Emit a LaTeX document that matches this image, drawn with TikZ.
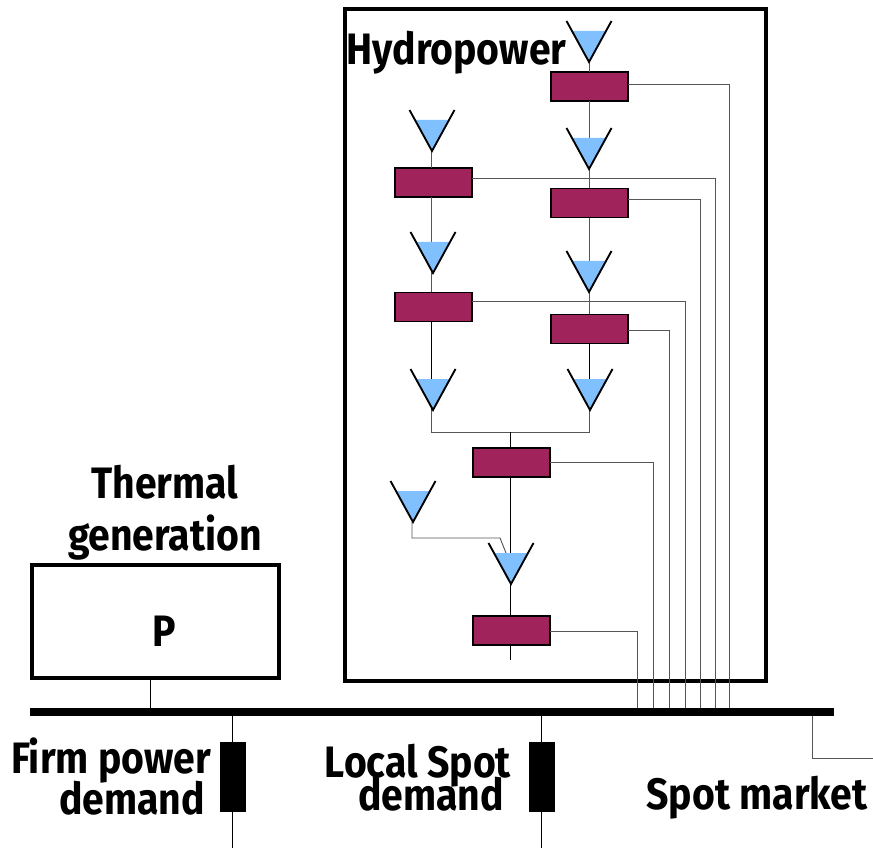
\documentclass[tikz,border=0pt]{standalone}
\usepackage{fontspec}
\setmainfont{Fira Sans}[FakeStretch=0.89,BoldFont={Fira Sans Bold}]
\definecolor{turb}{RGB}{160,35,92}
\definecolor{water}{RGB}{128,192,255}
\definecolor{wire}{RGB}{85,85,85}
\tikzset{
  px/.style={x=0.75pt,y=-0.75pt},
  turbine/.style={draw=black,line width=1.1pt,fill=turb,minimum width=58pt,minimum height=22pt,inner sep=0pt,outer sep=0pt},
  frame/.style={draw=black,line width=2.4pt,inner sep=0pt,outer sep=0pt},
  wire/.style={draw=wire,line width=0.7pt},
  dark/.style={draw=black,line width=0.75pt},
  sink/.style={fill=black,draw=none,minimum width=19.5pt,minimum height=52.5pt,inner sep=0pt,outer sep=0pt},
  busbar/.style={fill=black,draw=none,minimum width=603pt,minimum height=6pt,inner sep=0pt,outer sep=0pt},
  lbl/.style={font=\fontsize{33pt}{33pt}\selectfont\bfseries,inner sep=0pt,align=center,text=black,anchor=base},
}
% \tank{apex x}{apex y}
\newcommand{\tank}[2]{%
  \fill[water] (#1-17,#2-31) -- (#1+17,#2-31) -- (#1,#2) -- cycle;
  \draw[black,line width=1.4pt] (#1-22.5,#2-41) -- (#1,#2) -- (#1+22.5,#2-41);
}
\begin{document}
\begin{tikzpicture}[px]
\useasboundingbox (0,0) rectangle (873,848);
% tank apexes
\coordinate (t1) at (589,62);
\coordinate (t2) at (431,151);
\coordinate (t3) at (589,169);
\coordinate (t4) at (431,273);
\coordinate (t5) at (589,292);
\coordinate (t6) at (431,410);
\coordinate (t7) at (589,410);
\coordinate (t8) at (412,522);
\coordinate (t9) at (510,584);
% turbines
\node[turbine] (b1) at (589.5,86.5) {};
\node[turbine] (b2) at (433.5,182.5) {};
\node[turbine] (b3) at (589.5,203) {};
\node[turbine] (b4) at (433.5,307) {};
\node[turbine] (b5) at (589.5,329) {};
\node[turbine] (b6) at (511.5,462.5) {};
\node[turbine] (b7) at (511.5,630.5) {};
% frames and bus
\node[busbar] (bus) at (432,712) {};
\node[frame,minimum width=315.8pt,minimum height=504pt] (hydro) at (555.5,345) {};
\node[frame,minimum width=185.3pt,minimum height=84.8pt] (thermal) at (155.5,621.5) {};
\node[sink] (firm) at (233,777) {};
\node[sink] (local) at (542,777) {};
% free ends
\coordinate (j1) at (431,432);
\coordinate (j2) at (589,432);
\coordinate (j3) at (510,432);
\coordinate (end7) at (510,660);
\coordinate (c8a) at (412,538);
\coordinate (c8b) at (500,538);
\coordinate (c8c) at (506,553);
\coordinate (firmend) at (232.5,848);
\coordinate (localend) at (541.5,848);
\coordinate (spot1) at (812,758);
\coordinate (spot2) at (873,758);
% left cascade
\draw[wire] (t2) -- (t2 |- b2.north);
\draw[wire] (t2 |- b2.south) -- (t4);
\draw[wire] (t4) -- (t4 |- b4.north);
\draw[dark] (t4 |- b4.south) -- (t6);
% right cascade
\draw[wire] (t1) -- (t1 |- b1.north);
\draw[wire] (t1 |- b1.south) -- (t3);
\draw[wire] (t3) -- (t3 |- b3.north);
\draw[wire] (t3 |- b3.south) -- (t5);
\draw[wire] (t5) -- (t5 |- b5.north);
\draw[dark] (t5 |- b5.south) -- (t7);
% merge
\draw[wire] (t6) -- (j1) -- (j2) -- (t7);
\draw[dark] (j3) -- (j3 |- b6.north);
\draw[dark] (j3 |- b6.south) -- (t9);
\draw[dark] (t9) -- (t9 |- b7.north);
\draw[dark] (end7 |- b7.south) -- (end7);
\draw[wire] (t8) -- (c8a) -- (c8b) -- (c8c);
% tanks
\tank{589}{62}
\tank{432}{151}
\tank{589}{169}
\tank{433}{273}
\tank{589}{292}
\tank{433}{410}
\tank{590}{410}
\tank{413}{522}
\tank{511}{584}
% outputs to bus
\draw[wire] (b1.east |- 0,84) -| (729,708);
\draw[wire] (b2.east |- 0,178) -| (715.5,708);
\draw[wire] (b3.east |- 0,199) -| (700,708);
\draw[wire] (b4.east |- 0,301) -| (685,708);
\draw[wire] (b5.east |- 0,330) -| (669.5,708);
\draw[wire] (b6.east |- 0,462) -| (653.5,708);
\draw[wire] (b7.east |- 0,631) -| (637.5,708);
% bus connections
\draw[dark,line width=0.5pt] (150.5,678) -- (150.5,708);
\draw[dark,line width=0.5pt] (bus.south -| firmend) -- (firmend);
\draw[dark,line width=0.5pt] (bus.south -| localend) -- (localend);
\draw[wire] (bus.south -| spot1) -- (spot1) -- (spot2);
% labels
\node[lbl] (lh) at (456.5,65) {Hydropower};
\node[lbl] (lt1) at (165,498) {Thermal};
\node[lbl] (lt2) at (165,550) {generation};
\node[lbl] (lp) at (164,646) {P};
\node[lbl] (lf1) at (111,773) {Firm power};
\node[lbl] (lf2) at (132,814) {demand};
\node[lbl] (ll1) at (418,777) {Local Spot};
\node[lbl] (ll2) at (431,810) {demand};
\node[lbl] (ls) at (757,809) {Spot market};
\end{tikzpicture}
\end{document}
